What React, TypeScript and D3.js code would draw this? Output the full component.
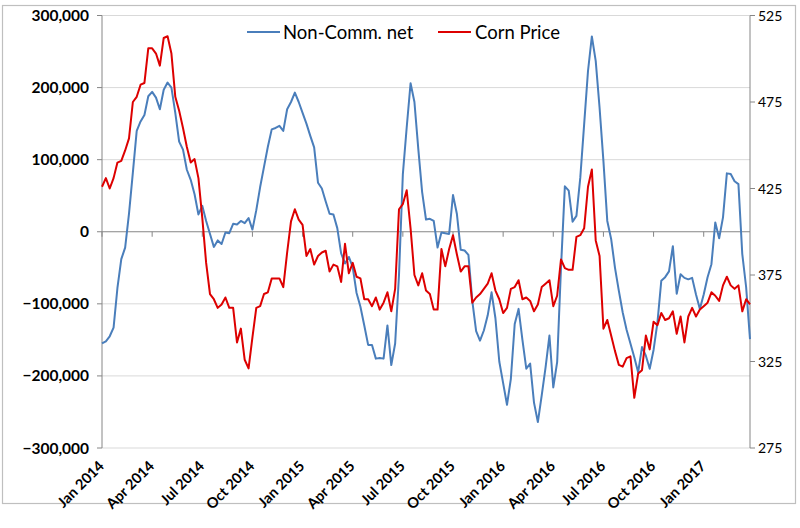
import React, { useEffect } from "react";
import * as d3 from "d3";

const W = 800;
const H = 528;

// Weekly observations, Jan 2014 .. Apr 2017
// Non-commercial net position, thousands of contracts (left axis)
const nonCommNet: number[] = [
  -155, -152, -145, -133, -78, -38, -22, 25, 82, 140,
  153, 162, 188, 194, 186, 170, 197, 207, 200, 165,
  125, 114, 86, 72, 52, 24, 36, 15, -3, -21,
  -12, -17, -1, -2, 11, 10, 15, 12, 19, 3,
  30, 62, 90, 118, 142, 144, 147, 140, 170, 180,
  193, 180, 165, 150, 133, 117, 68, 60, 42, 25,
  24, 5, -30, -44, -35, -49, -85, -104, -130, -157,
  -157, -176, -175, -176, -130, -185, -155, -60, 80, 145,
  206, 180, 115, 55, 17, 18, 15, -22, -1, -2,
  -3, 51, 25, -25, -26, -32, -96, -138, -151, -137,
  -116, -84, -120, -180, -210, -240, -204, -128, -107, -150,
  -190, -183, -237, -264, -227, -188, -144, -216, -181, -50,
  63, 57, 14, 22, 75, 149, 223, 271, 237, 172,
  98, 15, -10, -50, -82, -112, -136, -155, -174, -195,
  -160, -172, -190, -164, -126, -68, -63, -55, -20, -86,
  -59, -64, -66, -64, -87, -107, -87, -63, -45, 13,
  -9, 20, 81, 80, 70, 66, -31, -77, -149,
];

// Corn price, cents per bushel (right axis)
const cornPrice: number[] = [
  426, 431, 425, 431, 440, 441, 447, 454, 475, 478,
  485, 486, 506, 506, 503, 496, 512, 513, 503, 478,
  470, 460, 449, 440, 442, 431, 408, 382, 364, 361,
  356, 358, 362, 356, 356, 336, 344, 326, 321, 339,
  356, 357, 364, 365, 373, 373, 373, 368, 388, 406,
  413, 407, 404, 386, 390, 381, 386, 388, 389, 377,
  381, 380, 371, 393, 376, 382, 374, 373, 361, 361,
  357, 362, 355, 359, 365, 354, 367, 413, 416, 424,
  402, 375, 369, 376, 366, 364, 355, 355, 390, 380,
  390, 398, 387, 377, 380, 380, 359, 362, 364, 367,
  370, 376, 366, 361, 353, 356, 367, 368, 372, 361,
  362, 360, 354, 358, 368, 370, 372, 357, 363, 384,
  379, 378, 378, 397, 398, 402, 426, 436, 395, 386,
  344, 349, 340, 331, 323, 322, 327, 328, 304, 318,
  320, 340, 332, 348, 346, 353, 349, 350, 354, 341,
  351, 336, 351, 356, 351, 355, 357, 359, 365, 363,
  360, 369, 374, 369, 367, 369, 354, 361, 358,
];

const quarterLabels: string[] = [
  "Jan 2014", "Apr 2014", "Jul 2014", "Oct 2014",
  "Jan 2015", "Apr 2015", "Jul 2015", "Oct 2015",
  "Jan 2016", "Apr 2016", "Jul 2016", "Oct 2016",
  "Jan 2017",
];
const WEEKS_PER_QUARTER = 13;

const leftTicks: number[] = [-300, -200, -100, 0, 100, 200, 300];
const rightTicks: number[] = [275, 325, 375, 425, 475, 525];

const seriesNames: string[] = ["Non-Comm. net", "Corn Price"];
const BLUE = "#4a7ebb";
const RED = "#dd0000";
const FONT = "Lato, 'Open Sans', sans-serif";

export default function App() {
  useEffect(() => {
    document.body.style.margin = "0";
  }, []);

  const left = 102;
  const right = 750;
  const top = 15.5;
  const bottom = 448;

  const x = d3.scaleLinear().domain([0, nonCommNet.length - 1]).range([left, right]);
  const yL = d3.scaleLinear().domain([-300, 300]).range([bottom, top]);
  const yR = d3.scaleLinear().domain([275, 525]).range([bottom, top]);

  const netLine = d3
    .line<number>()
    .x((_, i) => x(i))
    .y((d) => yL(d));
  const priceLine = d3
    .line<number>()
    .x((_, i) => x(i))
    .y((d) => yR(d));

  const fmt = d3.format(",");
  const y0 = yL(0);

  return (
    <svg
      width={W}
      height={H}
      viewBox={`0 0 ${W} ${H}`}
      style={{ position: "absolute", left: 0, top: 0, background: "#fff" }}
      fontFamily={FONT}
    >
      <rect x={0} y={0} width={W} height={H} fill="#fff" />
      <rect x={2.5} y={5.5} width={793} height={498} fill="#fff" stroke="#bfbfbf" strokeWidth={1.2} />

      {/* gridlines */}
      {leftTicks
        .filter((t) => t !== 0)
        .map((t) => (
          <line key={"g" + t} x1={left} x2={right} y1={yL(t)} y2={yL(t)} stroke="#d9d9d9" strokeWidth={1} />
        ))}

      {/* left axis */}
      <line x1={left} x2={left} y1={top} y2={bottom} stroke="#868686" strokeWidth={1} />
      {leftTicks.map((t) => (
        <g key={"l" + t}>
          <line x1={left - 5} x2={left} y1={yL(t)} y2={yL(t)} stroke="#868686" />
          <text
            x={89}
            y={yL(t)}
            dy="0.36em"
            textAnchor="end"
            fontSize={15.5}
            fontWeight="bold"
            fill="#000"
          >
            {fmt(t * 1000)}
          </text>
        </g>
      ))}

      {/* right axis */}
      <line x1={right} x2={right} y1={top} y2={bottom} stroke="#868686" strokeWidth={1} />
      {rightTicks.map((t) => (
        <g key={"r" + t}>
          <line x1={right} x2={right + 5} y1={yR(t)} y2={yR(t)} stroke="#868686" />
          <text x={758} y={yR(t)} dy="0.36em" textAnchor="start" fontSize={14} fill="#000">
            {t}
          </text>
        </g>
      ))}

      {/* category axis at zero */}
      <line x1={left} x2={right} y1={y0} y2={y0} stroke="#868686" strokeWidth={1} />
      {quarterLabels.map((lab, k) => {
        const xi = x(k * WEEKS_PER_QUARTER);
        return (
          <g key={lab}>
            <line x1={xi} x2={xi} y1={y0} y2={y0 + 5} stroke="#868686" />
            <text
              transform={`translate(${xi + 3},${467}) rotate(-45)`}
              textAnchor="end"
              fontSize={14.5}
              fontWeight="bold"
              fill="#000"
            >
              {lab}
            </text>
          </g>
        );
      })}

      {/* series */}
      <path d={netLine(nonCommNet) || ""} fill="none" stroke={BLUE} strokeWidth={2} strokeLinejoin="round" />
      <path d={priceLine(cornPrice) || ""} fill="none" stroke={RED} strokeWidth={2} strokeLinejoin="round" />

      {/* legend */}
      <line x1={247} x2={280} y1={32} y2={32} stroke={BLUE} strokeWidth={2} />
      <text x={283} y={32} dy="0.36em" fontSize={18.5} fill="#000">
        {seriesNames[0]}
      </text>
      <line x1={438} x2={471} y1={32} y2={32} stroke={RED} strokeWidth={2} />
      <text x={475} y={32} dy="0.36em" fontSize={18.5} fill="#000">
        {seriesNames[1]}
      </text>
    </svg>
  );
}
